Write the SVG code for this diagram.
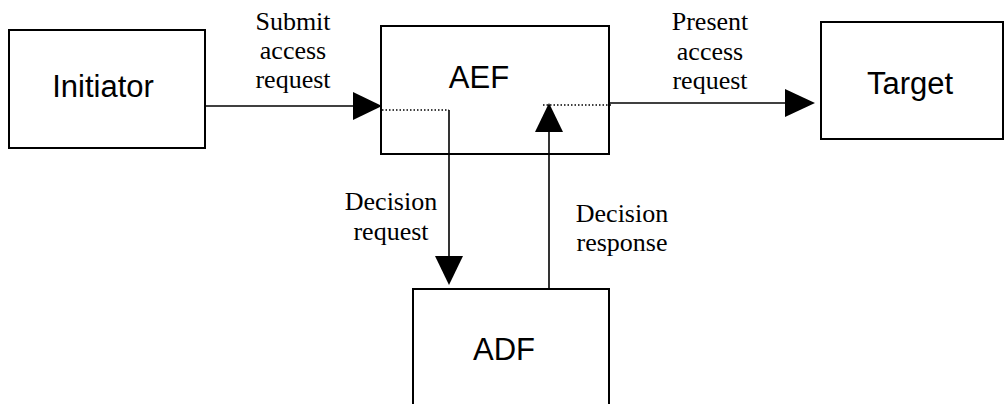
<svg xmlns="http://www.w3.org/2000/svg" width="1004" height="404" viewBox="0 0 1004 404">
<style>
.box{fill:#fff;stroke:#000;stroke-width:2}
.nt{font-family:"Liberation Sans",Arial,sans-serif;font-size:31px;fill:#000;text-anchor:middle}
.lb{font-family:"Liberation Serif","Times New Roman",serif;font-size:26px;fill:#000;text-anchor:middle}
.ln{stroke:#000;stroke-width:1.6;fill:none}
.dt{stroke:#000;stroke-width:1.5;stroke-dasharray:1.5 2;fill:none}
.ah{fill:#000}
</style>
<rect width="1004" height="404" fill="#fff"/>
<g id="initiator"><rect class="box" x="9" y="30" width="196" height="118"/><text class="nt" x="103" y="97">Initiator</text></g>
<g id="aef"><rect class="box" x="381" y="26" width="228" height="128"/><text class="nt" x="479" y="88">AEF</text></g>
<g id="target"><rect class="box" x="821" y="22" width="182" height="117"/><text class="nt" x="910" y="94">Target</text></g>
<g id="adf"><rect class="box" x="413" y="289" width="196" height="130"/><text class="nt" x="504" y="360">ADF</text></g>
<g id="connectors">
<line class="ln" x1="205" y1="106" x2="355" y2="106"/>
<polygon class="ah" points="353,92 382,106 353,120"/>
<line class="dt" x1="382" y1="110" x2="449" y2="110"/>
<line class="ln" x1="449" y1="110" x2="449" y2="258"/>
<polygon class="ah" points="435,256 463,256 449,285"/>
<line class="ln" x1="549" y1="288" x2="549" y2="130"/>
<polygon class="ah" points="535,132 563,132 549,103"/>
<line class="dt" x1="543" y1="105" x2="612" y2="105"/>
<line class="ln" x1="609" y1="103" x2="787" y2="103"/>
<polygon class="ah" points="785,89 815,103 785,117"/>
</g>
<g id="labels">
<text class="lb" x="293" y="30">Submit</text>
<text class="lb" x="293" y="59">access</text>
<text class="lb" x="293" y="88">request</text>
<text class="lb" x="710" y="30">Present</text>
<text class="lb" x="710" y="60">access</text>
<text class="lb" x="710" y="89">request</text>
<text class="lb" x="391" y="210">Decision</text>
<text class="lb" x="391" y="240">request</text>
<text class="lb" x="622" y="222">Decision</text>
<text class="lb" x="622" y="251">response</text>
</g>
</svg>
